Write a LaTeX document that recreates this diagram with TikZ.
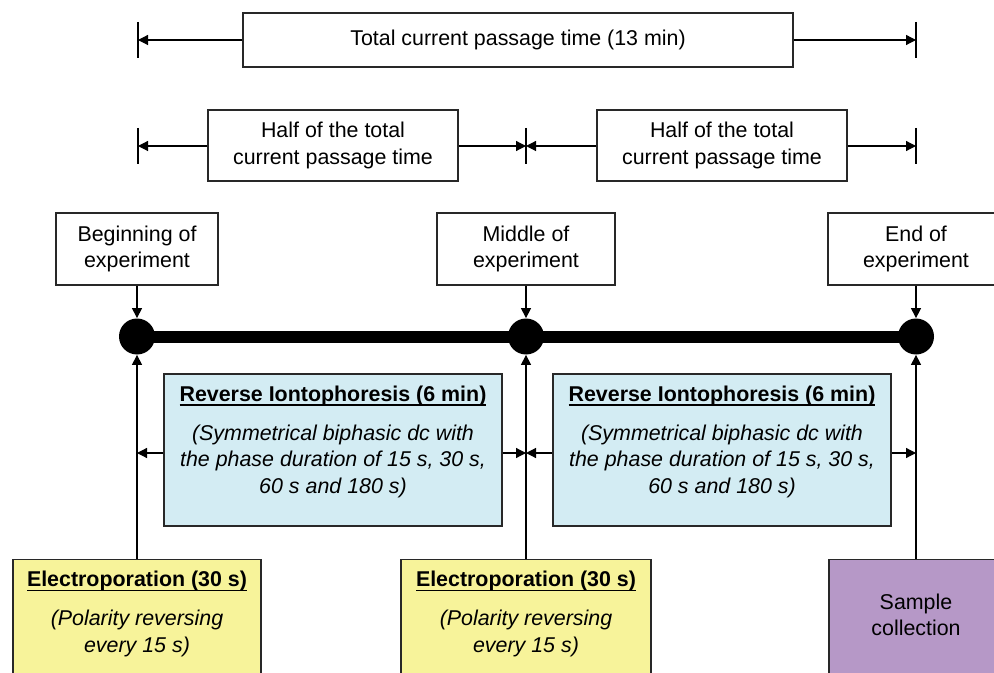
\documentclass[tikz,border=0pt]{standalone}
\usepackage{fontspec}
\setmainfont{Liberation Sans}
\usetikzlibrary{arrows.meta,positioning,calc}

\definecolor{riblue}{RGB}{211,236,243}
\definecolor{epyellow}{RGB}{247,243,154}
\definecolor{scpurple}{RGB}{182,152,199}
\definecolor{boxline}{RGB}{40,40,40}

\newcommand{\ulbox}[1]{\setbox0\hbox{#1}\rlap{\rule[-2.2pt]{\wd0}{0.9pt}}\box0}

\begin{document}
\begin{tikzpicture}[x=0.5pt,y=-0.5pt,
    every node/.style={font=\fontsize{10.7}{13.3}\selectfont},
    box/.style={draw=boxline, line width=0.7pt, align=center, inner sep=0pt},
    arr/.style={-{Triangle[length=5pt,width=5pt]}, line width=0.6pt},
    tick/.style={line width=0.6pt},
    dot/.style={circle, fill=black, minimum size=18pt, inner sep=0pt}]

    \useasboundingbox (0,0) rectangle (994,673);
    \clip (0,0) rectangle (994,673);

    % time spans
    \node[box, minimum width=275pt, minimum height=27pt] (total) at (518,40) {Total current passage time (13 min)};
    \node[box, minimum width=125pt, minimum height=35.5pt] (half1) at (333,145.5) {Half of the total\\current passage time};
    \node[box, minimum width=125pt, minimum height=35.5pt] (half2) at (722,145.5) {Half of the total\\current passage time};

    \coordinate (t1) at (138,40);
    \coordinate (t2) at (916,40);
    \coordinate (h1) at (138,146);
    \coordinate (h2) at (526,146);
    \coordinate (h3) at (916,146);
    \foreach \c in {t1,t2,h1,h2,h3}
        \draw[tick] ([yshift=9pt]\c) -- ([yshift=-9pt]\c);

    \draw[arr] (total.west) -- (t1);
    \draw[arr] (total.east) -- (t2);
    \draw[arr] (half1.west |- h1) -- (h1);
    \draw[arr] (half1.east |- h2) -- (h2);
    \draw[arr] (half2.west |- h2) -- (h2);
    \draw[arr] (half2.east |- h3) -- (h3);

    % time line
    \node[box, minimum width=81pt, minimum height=36pt] (begin) at (137,249) {Beginning of\\experiment};
    \node[box, minimum width=89pt, minimum height=36pt] (middle) at (526,249) {Middle of\\experiment};
    \node[box, minimum width=88pt, minimum height=36pt] (expend) at (916,249) {End of\\experiment};

    \node[dot] (c1) at (137,336.5) {};
    \node[dot] (c2) at (526,336.5) {};
    \node[dot] (c3) at (916,336.5) {};
    \draw[line width=6pt] (c1.center) -- (c3.center);

    \draw[arr] (begin.south) -- (c1.north);
    \draw[arr] (middle.south) -- (c2.north);
    \draw[arr] (expend.south) -- (c3.north);

    % reverse iontophoresis
    \node[box, fill=riblue, minimum width=169pt, minimum height=76pt] (ri1) at (333,450) {};
    \node[align=center] (ri1txt) at (333,442) {\ulbox{\textbf{Reverse Iontophoresis (6 min)}}\\[6pt]\textit{(Symmetrical biphasic dc with}\\\textit{the phase duration of 15 s, 30 s,}\\\textit{60 s and 180 s)}};
    \node[box, fill=riblue, minimum width=169pt, minimum height=76pt] (ri2) at (722,450) {};
    \node[align=center] (ri2txt) at (722,442) {\ulbox{\textbf{Reverse Iontophoresis (6 min)}}\\[6pt]\textit{(Symmetrical biphasic dc with}\\\textit{the phase duration of 15 s, 30 s,}\\\textit{60 s and 180 s)}};

    \coordinate (b1) at (137,453);
    \coordinate (b2) at (526,453);
    \coordinate (b3) at (916,453);
    \draw[arr] (ri1.west |- b1) -- (b1);
    \draw[arr] (ri1.east |- b2) -- (b2);
    \draw[arr] (ri2.west |- b2) -- (b2);
    \draw[arr] (ri2.east |- b3) -- (b3);

    % electroporation and sampling
    \node[box, fill=epyellow, minimum width=124pt, minimum height=80pt, anchor=north] (ep1) at (137,559) {};
    \node[align=center] (ep1txt) at (137,614) {\ulbox{\textbf{Electroporation (30 s)}}\\[6pt]\textit{(Polarity reversing}\\\textit{every 15 s)}};
    \node[box, fill=epyellow, minimum width=125pt, minimum height=80pt, anchor=north] (ep2) at (526,559) {};
    \node[align=center] (ep2txt) at (526,614) {\ulbox{\textbf{Electroporation (30 s)}}\\[6pt]\textit{(Polarity reversing}\\\textit{every 15 s)}};
    \node[box, fill=scpurple, minimum width=87pt, minimum height=80pt, anchor=north] (sc) at (916,559) {};
    \node[align=center] (sctxt) at (916,615) {Sample\\collection};

    \draw[arr] (ep1.north) -- (c1.south);
    \draw[arr] (ep2.north) -- (c2.south);
    \draw[arr] (sc.north) -- (c3.south);
\end{tikzpicture}
\end{document}
